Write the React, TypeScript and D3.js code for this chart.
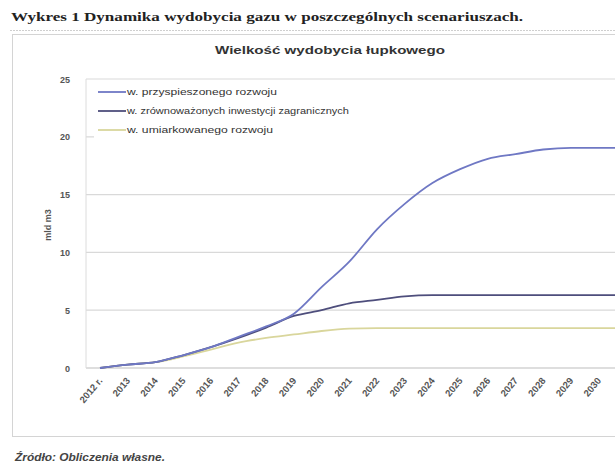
import React from 'react';
import * as d3 from 'd3';

const W = 615;
const H = 473;

// categories (x axis) and series
const years = [
  '2012 r.', '2013', '2014', '2015', '2016', '2017', '2018', '2019', '2020', '2021',
  '2022', '2023', '2024', '2025', '2026', '2027', '2028', '2029', '2030', '2031', '2032',
];
const fastGrowth = [0, 0.3, 0.5, 1.1, 1.8, 2.7, 3.6, 4.7, 7.0, 9.2, 12.0, 14.2, 16.0, 17.2, 18.1, 18.5, 18.9, 19.05, 19.05, 19.05, 19.05];
const foreignInvest = [0, 0.3, 0.5, 1.1, 1.8, 2.6, 3.5, 4.5, 5.0, 5.6, 5.9, 6.2, 6.3, 6.3, 6.3, 6.3, 6.3, 6.3, 6.3, 6.3, 6.3];
const moderate = [0, 0.3, 0.5, 1.0, 1.6, 2.2, 2.6, 2.9, 3.2, 3.4, 3.45, 3.45, 3.45, 3.45, 3.45, 3.45, 3.45, 3.45, 3.45, 3.45, 3.45];
const yTicks = [0, 5, 10, 15, 20, 25];

const seriesNames = [
  'w. przyspieszonego rozwoju',
  'w. zrównoważonych inwestycji zagranicznych',
  'w. umiarkowanego rozwoju',
];
const seriesColors = ['#6f78c4', '#4e4e7c', '#d9d69c'];
const seriesData = [fastGrowth, foreignInvest, moderate];
const legendWidths = [150, 222, 146];

const PLOT = { left: 86, right: 690, top: 79, bottom: 368 };

export default function App() {
  const x = d3.scalePoint<string>().domain(years).range([100, 100 + 27.7 * (years.length - 1)]);
  const y = d3.scaleLinear().domain([0, 25]).range([PLOT.bottom, PLOT.top]);

  const line = d3
    .line<number>()
    .x((_, i) => x(years[i]) as number)
    .y((d) => y(d))
    .curve(d3.curveMonotoneX);

  // the picture is cropped on the right; keep only labels that fit
  const shownYears = years.filter((yr) => (x(yr) as number) < W - 8);

  return (
    <svg
      width={W}
      height={H}
      style={{ position: 'absolute', left: 0, top: 0, background: '#fff' }}
      fontFamily="Liberation Sans, Arial, sans-serif"
    >
      {/* page header */}
      <text
        x={11}
        y={21}
        fontFamily="Liberation Serif, Times New Roman, serif"
        fontWeight="bold"
        fontSize={13}
        fill="#222"
        textLength={512}
        lengthAdjust="spacingAndGlyphs"
      >
        Wykres 1 Dynamika wydobycia gazu w poszczególnych scenariuszach.
      </text>
      <line x1={10} x2={W} y1={30.5} y2={30.5} stroke="#cfcfcf" strokeDasharray="2,1" />

      {/* chart frame */}
      <rect x={12.5} y={34.5} width={W + 20} height={402} fill="#fff" stroke="#d4d4d4" />

      <text
        x={330}
        y={54}
        textAnchor="middle"
        fontWeight="bold"
        fontSize={10}
        fill="#333"
        textLength={230}
        lengthAdjust="spacingAndGlyphs"
      >
        Wielkość wydobycia łupkowego
      </text>

      {/* grid */}
      {yTicks.map((t) => (
        <line key={t} x1={PLOT.left} x2={PLOT.right} y1={y(t)} y2={y(t)} stroke={t === 0 ? '#bdbdbd' : '#d9d9d9'} strokeWidth={1.2} />
      ))}
      <line x1={PLOT.left} x2={PLOT.left} y1={PLOT.top} y2={PLOT.bottom} stroke="#dcdcdc" />

      {yTicks.map((t) => (
        <text key={t} x={70} y={y(t) + 3.5} textAnchor="end" fontSize={9} fontWeight="bold" fill="#555">
          {t}
        </text>
      ))}

      <text
        transform={`translate(51,225) rotate(-90)`}
        textAnchor="middle"
        fontSize={9}
        fontWeight="bold"
        fill="#555"
      >
        mld m3
      </text>

      {/* x labels */}
      {shownYears.map((yr) => (
        <text
          key={yr}
          transform={`translate(${(x(yr) as number) + 3},${PLOT.bottom + 13}) rotate(-50)`}
          textAnchor="end"
          fontSize={9.5}
          fontWeight="bold"
          fill="#555"
        >
          {yr}
        </text>
      ))}

      {/* legend */}
      <rect x={94} y={83} width={W} height={55} fill="#fff" />
      {seriesNames.map((name, i) => (
        <g key={name} transform={`translate(98,${92 + i * 19})`}>
          <line x1={0} x2={28} y1={0} y2={0} stroke={seriesColors[i]} strokeWidth={1.8} />
          <text x={29} y={3} fontSize={9} fill="#333" textLength={legendWidths[i]} lengthAdjust="spacingAndGlyphs">
            {name}
          </text>
        </g>
      ))}

      {/* series, drawn back to front */}
      {[2, 1, 0].map((i) => (
        <path key={i} d={line(seriesData[i]) ?? ''} fill="none" stroke={seriesColors[i]} strokeWidth={1.8} />
      ))}

      <text x={15} y={461} fontSize={10} fontStyle="italic" fontWeight="bold" fill="#444" textLength={150} lengthAdjust="spacingAndGlyphs">
        Źródło: Obliczenia własne.
      </text>
    </svg>
  );
}
